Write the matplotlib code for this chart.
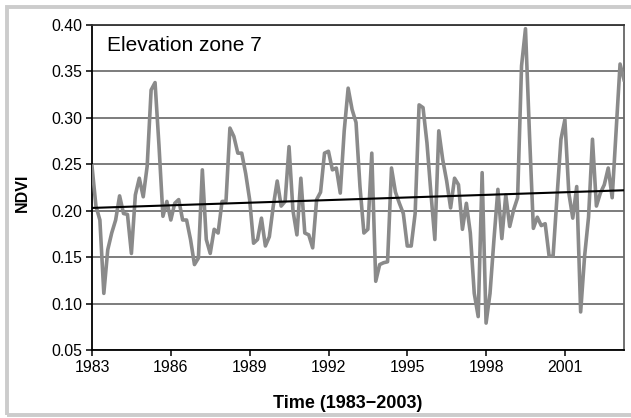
import numpy as np
import matplotlib
matplotlib.use("Agg")
import matplotlib.pyplot as plt
from matplotlib.patches import Rectangle

plt.rcParams['font.family'] = ['Liberation Sans', 'DejaVu Sans']

# --- data ---
start_year = 1983.0
end_year = 2003.24
ndvi = [0.248, 0.205, 0.190, 0.111, 0.158, 0.176, 0.190, 0.216, 0.197, 0.196,
        0.154, 0.217, 0.235, 0.215, 0.248, 0.330, 0.338, 0.270, 0.194, 0.210,
        0.190, 0.208, 0.212, 0.190, 0.190, 0.169, 0.142, 0.149, 0.244, 0.169,
        0.154, 0.180, 0.176, 0.210, 0.210, 0.289, 0.280, 0.262, 0.262, 0.240,
        0.212, 0.165, 0.169, 0.192, 0.162, 0.172, 0.205, 0.232, 0.205, 0.210,
        0.269, 0.200, 0.174, 0.235, 0.176, 0.174, 0.160, 0.212, 0.220, 0.262,
        0.264, 0.244, 0.246, 0.219, 0.286, 0.332, 0.309, 0.295, 0.226, 0.176,
        0.180, 0.262, 0.124, 0.142, 0.144, 0.145, 0.246, 0.220, 0.208, 0.197,
        0.162, 0.162, 0.197, 0.314, 0.311, 0.273, 0.219, 0.169, 0.286, 0.255,
        0.232, 0.203, 0.235, 0.228, 0.180, 0.208, 0.176, 0.111, 0.086, 0.241,
        0.079, 0.111, 0.169, 0.223, 0.170, 0.217, 0.183, 0.201, 0.214, 0.356,
        0.396, 0.284, 0.181, 0.193, 0.184, 0.186, 0.151, 0.151, 0.215, 0.277,
        0.298, 0.219, 0.192, 0.226, 0.091, 0.151, 0.193, 0.277, 0.205, 0.219,
        0.228, 0.246, 0.214, 0.287, 0.358, 0.341]
trend_start = 0.203
trend_end = 0.222
xticks = [1983, 1986, 1989, 1992, 1995, 1998, 2001]
yticks = [0.05, 0.10, 0.15, 0.20, 0.25, 0.30, 0.35, 0.40]
ytick_labels = ["0.05", "0.10", "0.15", "0.20", "0.25", "0.30", "0.35", "0.40"]

W, H = 631, 418
fig = plt.figure(figsize=(W / 100, H / 100), dpi=100)
fig.patch.set_facecolor('white')

ax = fig.add_axes([92 / W, (H - 350) / H, (624 - 92) / W, (350 - 25) / H])

t = np.linspace(start_year, end_year, len(ndvi))
ax.plot(t, ndvi, color='#8a8a8a', lw=2.6, solid_joinstyle='round', zorder=3)
ax.plot([start_year, end_year], [trend_start, trend_end], color='black', lw=1.5, zorder=4)

ax.set_xlim(start_year, end_year)
ax.set_ylim(0.05, 0.40)
ax.set_xticks(xticks)
ax.set_xticklabels([str(x) for x in xticks])
ax.set_yticks(yticks)
ax.set_yticklabels(ytick_labels)
ax.yaxis.grid(True, color='#666666', lw=1.2)
ax.set_axisbelow(True)

ax.tick_params(axis='both', direction='out', length=4, width=1.1, labelsize=11.4,
               colors='black', pad=3)
for s in ['left', 'bottom']:
    ax.spines[s].set_color('black')
    ax.spines[s].set_linewidth(1.3)
ax.spines['top'].set_color('#333333')
ax.spines['top'].set_linewidth(1.3)
ax.spines['right'].set_color('#666666')
ax.spines['right'].set_linewidth(1.3)

ax.set_ylabel('NDVI', fontsize=11.5, fontweight='bold')
ax.yaxis.set_label_coords(-0.117, 0.483)
ax.set_xlabel('Time (1983\u22122003)', fontsize=13, fontweight='bold')
ax.xaxis.set_label_coords(0.481, -0.137)
ax.text(0.028, 0.938, 'Elevation zone 7', transform=ax.transAxes, fontsize=15,
        va='center', ha='left')

# light gray outer frame (right side falls outside the image)
fig.patches.append(Rectangle((7 / W, 3 / H), (W + 10) / W, (415 - 7) / H,
                             transform=fig.transFigure, fill=False,
                             edgecolor='#cccccc', lw=2.8, zorder=0))

fig.savefig('out.png', dpi=100)
